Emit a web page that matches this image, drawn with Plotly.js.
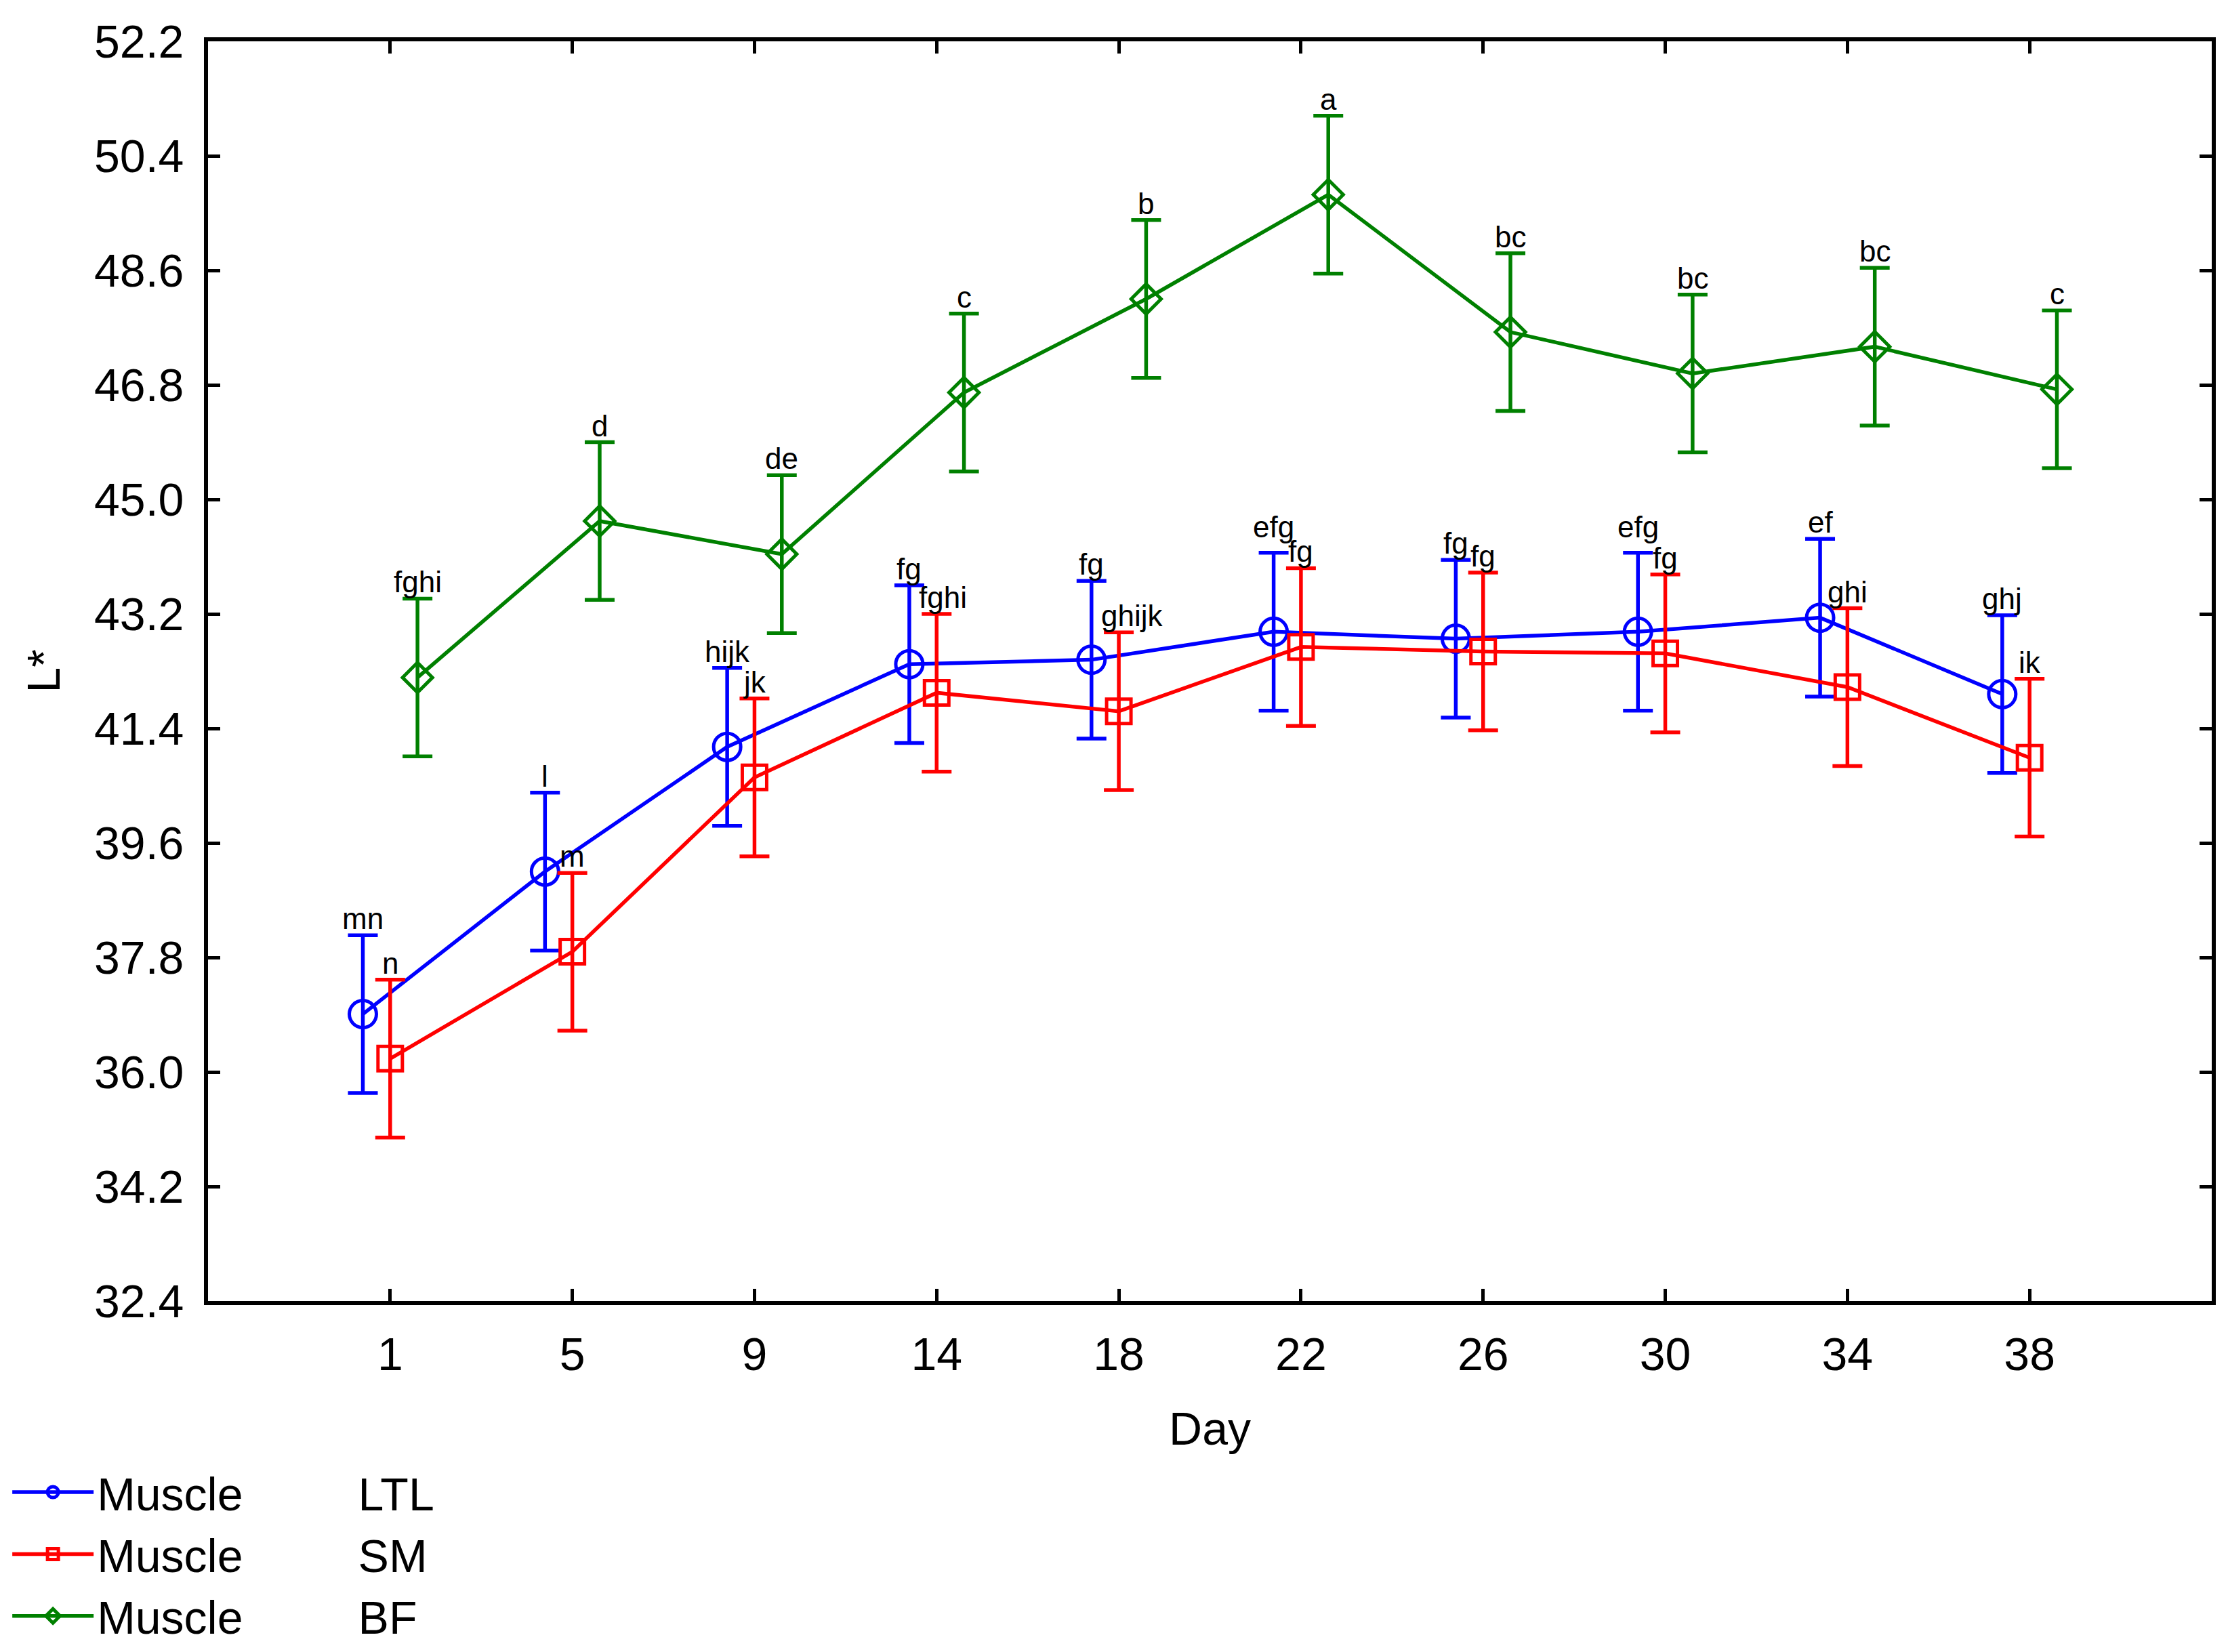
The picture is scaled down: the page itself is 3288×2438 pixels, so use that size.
<!DOCTYPE html>
<html>
<head>
<meta charset="utf-8">
<script src="https://cdn.plot.ly/plotly-3.0.1.min.js"></script>
<style>
  html, body { margin: 0; padding: 0; background: #fff; }
  #chart { width: 3288px; height: 2438px; }
</style>
</head>
<body>
<div id="chart"></div>
<script>
// days on the x axis
const days = ['1', '5', '9', '14', '18', '22', '26', '30', '34', '38'];

// L* means per muscle
const ltl = [36.91, 39.15, 41.11, 42.41, 42.48, 42.92, 42.81, 42.92, 43.14, 41.94];
const sm  = [36.21, 37.89, 40.63, 41.96, 41.67, 42.68, 42.61, 42.58, 42.05, 40.94];
const bf  = [42.20, 44.66, 44.14, 46.68, 48.15, 49.79, 47.63, 46.98, 47.40, 46.73];

// error bar half-widths
const ltlErr = [1.24, 1.24, 1.24, 1.24, 1.24, 1.24, 1.24, 1.24, 1.24, 1.24];
const smErr  = [1.24, 1.24, 1.24, 1.24, 1.24, 1.24, 1.24, 1.24, 1.24, 1.24];
const bfErr  = [1.24, 1.24, 1.24, 1.24, 1.24, 1.24, 1.24, 1.24, 1.24, 1.24];

// letters of homogeneous groups above each bar
const ltlLetters = ['mn', 'l', 'hijk', 'fg', 'fg', 'efg', 'fg', 'efg', 'ef', 'ghj'];
const smLetters  = ['n', 'm', 'jk', 'fghi', 'ghijk', 'fg', 'fg', 'fg', 'ghi', 'ik'];
const bfLetters  = ['fghi', 'd', 'de', 'c', 'b', 'a', 'bc', 'bc', 'bc', 'c'];

const font = 'Liberation Sans, Arial, sans-serif';
const letterSize = 44;

function series(name, vals, errs, color, symbol, size, shift) {
  return {
    type: 'scatter',
    mode: 'lines+markers',
    name: name,
    x: vals.map((v, i) => i + shift),
    y: vals,
    line: {color: color, width: 5.5},
    marker: {symbol: symbol, size: size, color: color, line: {color: color, width: 5}},
    error_y: {type: 'data', array: errs, visible: true, color: color, thickness: 5.5, width: 22}
  };
}

const nb = '\u00A0';
const pad = nb.repeat(9);

const traces = [
  series('Muscle' + pad + 'LTL', ltl, ltlErr, '#0000ff', 'circle-open', 40, -0.15),
  series('Muscle' + pad + 'SM', sm, smErr, '#ff0000', 'square-open', 36, 0),
  series('Muscle' + pad + 'BF', bf, bfErr, '#008000', 'diamond-open', 34, 0.15)
];

// rough half width of a label in px
const halfW = t => t.length * letterSize * 0.45 / 2;

const ltlTops = ltl.map((v, i) => v + ltlErr[i]);
const smTops = sm.map((v, i) => v + smErr[i]);
const bfTops = bf.map((v, i) => v + bfErr[i]);

let annotations = [];
function letter(x, y, t, xs, ys) {
  annotations.push({
    x: x, y: y, xref: 'x', yref: 'y',
    text: t, showarrow: false, yanchor: 'bottom', xshift: xs, yshift: ys,
    font: {family: font, size: letterSize, color: '#000'}
  });
}
days.forEach((d, i) => {
  // LTL label goes up a bit when it would run into the SM label beside it
  let lift = 0;
  if (Math.abs(ltlTops[i] - smTops[i]) < 0.35 && halfW(ltlLetters[i]) + halfW(smLetters[i]) > 48) lift = 14;
  letter(i - 0.15, ltlTops[i], ltlLetters[i], 0, -2 + lift);
  // long SM labels slide right to clear the LTL bar
  let push = 0;
  if (ltlTops[i] > smTops[i]) push = Math.max(0, halfW(smLetters[i]) - 30);
  letter(i, smTops[i], smLetters[i], push, -2);
  letter(i + 0.15, bfTops[i], bfLetters[i], 0, -2);
});

// y axis title, drawn as a rotated note left of the tick labels
annotations.push({
  text: 'L*', xref: 'paper', yref: 'paper', x: -0.0825, y: 0.5,
  textangle: -90, showarrow: false, xanchor: 'center', yanchor: 'middle',
  font: {family: font, size: 68, color: '#000'}
});

const layout = {
  width: 3288,
  height: 2438,
  paper_bgcolor: '#fff',
  plot_bgcolor: '#fff',
  font: {family: font, size: 68, color: '#000'},
  margin: {l: 307, r: 24, t: 61, b: 518, autoexpand: false},
  showlegend: true,
  legend: {
    xref: 'container', yref: 'container',
    x: 0.004, y: 0.1176, xanchor: 'left', yanchor: 'top',
    font: {family: font, size: 68, color: '#000'},
    bgcolor: 'rgba(0,0,0,0)',
    itemwidth: 120,
    tracegroupgap: 0
  },
  xaxis: {
    automargin: false,
    range: [-1, 10],
    tickvals: days.map((d, i) => i),
    ticktext: days,
    showgrid: false, zeroline: false,
    showline: true, linecolor: '#000', linewidth: 6, mirror: 'ticks',
    ticks: 'inside', ticklen: 18, tickwidth: 5, tickcolor: '#000',
    ticklabelstandoff: 14,
    title: {text: 'Day', font: {family: font, size: 68}, standoff: 52}
  },
  yaxis: {
    automargin: false,
    range: [32.4, 52.2],
    tick0: 32.4, dtick: 1.8, tickformat: '.1f',
    showgrid: false, zeroline: false,
    showline: true, linecolor: '#000', linewidth: 6, mirror: 'ticks',
    ticks: 'inside', ticklen: 18, tickwidth: 5, tickcolor: '#000',
    ticklabelstandoff: 16
  },
  annotations: annotations
};

Plotly.newPlot('chart', traces, layout, {staticPlot: true});
</script>
</body>
</html>
